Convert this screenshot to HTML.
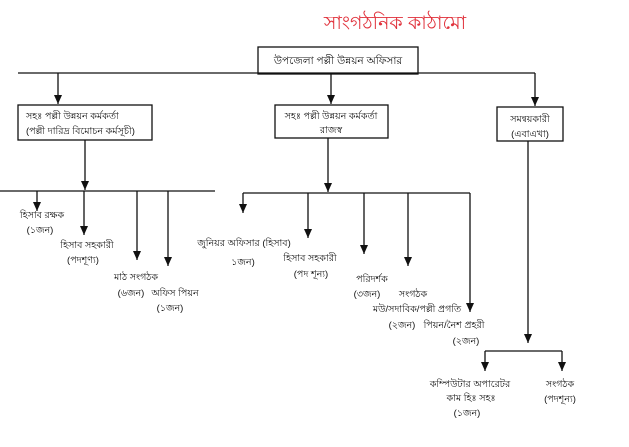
<!DOCTYPE html>
<html><head><meta charset="utf-8"><style>
html,body{margin:0;padding:0;background:#fff;}
svg{display:block;}
text{font-family:"Liberation Sans","Noto Sans CJK SC",sans-serif;font-size:9.5px;fill:#111;}
</style></head><body>
<svg width="629" height="447" viewBox="0 0 629 447" xmlns="http://www.w3.org/2000/svg">
<defs><marker id="a" markerWidth="9" markerHeight="8" refX="9" refY="4" orient="auto" markerUnits="userSpaceOnUse"><path d="M0,0 L9,4 L0,8 z" fill="#111"/></marker></defs>
<g stroke="#111" stroke-width="1.3" fill="none">
<rect x="258" y="47" width="160" height="27" fill="#fff"/>
<line x1="18" y1="73" x2="535" y2="73"/>
<line x1="58" y1="73" x2="58" y2="104" marker-end="url(#a)"/>
<line x1="331" y1="73" x2="331" y2="104" marker-end="url(#a)"/>
<line x1="535" y1="73" x2="535" y2="106" marker-end="url(#a)"/>
<rect x="18" y="105" width="134" height="35"/>
<rect x="275" y="105" width="113" height="33"/>
<rect x="497" y="107" width="66" height="34"/>
<line x1="85" y1="140" x2="85" y2="190" marker-end="url(#a)"/>
<line x1="0" y1="191" x2="215" y2="191"/>
<line x1="37" y1="191" x2="37" y2="211" marker-end="url(#a)"/>
<line x1="84" y1="191" x2="84" y2="235" marker-end="url(#a)"/>
<line x1="137" y1="191" x2="137" y2="260" marker-end="url(#a)"/>
<line x1="168" y1="191" x2="168" y2="266" marker-end="url(#a)"/>
<line x1="328" y1="138" x2="328" y2="192" marker-end="url(#a)"/>
<line x1="243" y1="193" x2="470" y2="193"/>
<line x1="243" y1="193" x2="243" y2="213" marker-end="url(#a)"/>
<line x1="308" y1="193" x2="308" y2="238" marker-end="url(#a)"/>
<line x1="364" y1="193" x2="364" y2="254" marker-end="url(#a)"/>
<line x1="408" y1="193" x2="408" y2="266" marker-end="url(#a)"/>
<line x1="470" y1="193" x2="470" y2="312" marker-end="url(#a)"/>
<line x1="528" y1="141" x2="528" y2="343" marker-end="url(#a)"/>
<line x1="485" y1="351" x2="562" y2="351"/>
<line x1="485" y1="351" x2="485" y2="371" marker-end="url(#a)"/>
<line x1="562" y1="351" x2="562" y2="371" marker-end="url(#a)"/>
</g>
<text x="395" y="29" text-anchor="middle" style="font-size:19px;fill:#e0303a">সাংগঠনিক কাঠামো</text>
<text x="338" y="64" text-anchor="middle" style="font-size:10.5px">উপজেলা পল্লী উন্নয়ন অফিসার</text>
<text x="26" y="119">সহঃ পল্লী উন্নয়ন কর্মকর্তা</text>
<text x="26" y="134">(পল্লী দারিদ্র বিমোচন কর্মসূচী)</text>
<text x="331" y="119" text-anchor="middle">সহঃ পল্লী উন্নয়ন কর্মকর্তা</text>
<text x="331" y="133" text-anchor="middle">রাজস্ব</text>
<text x="530" y="122" text-anchor="middle">সমন্বয়কারী</text>
<text x="530" y="137" text-anchor="middle">(এবাএখা)</text>
<text x="42" y="218" text-anchor="middle">হিসাব রক্ষক</text>
<text x="40" y="233" text-anchor="middle">(১জন)</text>
<text x="87" y="248" text-anchor="middle">হিসাব সহকারী</text>
<text x="83" y="263" text-anchor="middle">(পদশূণ্য)</text>
<text x="136" y="280" text-anchor="middle">মাঠ সংগঠক</text>
<text x="131" y="296" text-anchor="middle">(৬জন)</text>
<text x="175" y="296" text-anchor="middle">অফিস পিয়ন</text>
<text x="170" y="311" text-anchor="middle">(১জন)</text>
<text x="244" y="246" text-anchor="middle">জুনিয়র অফিসার (হিসাব)</text>
<text x="243" y="265" text-anchor="middle">১জন)</text>
<text x="310" y="261" text-anchor="middle">হিসাব সহকারী</text>
<text x="311" y="277" text-anchor="middle">(পদ শূন্য)</text>
<text x="372" y="282" text-anchor="middle">পরিদর্শক</text>
<text x="367" y="297" text-anchor="middle">(৩জন)</text>
<text x="413" y="297" text-anchor="middle">সংগঠক</text>
<text x="417" y="312" text-anchor="middle">মউ/সদাবিক/পল্লী প্রগতি</text>
<text x="402" y="328" text-anchor="middle">(২জন)</text>
<text x="454" y="328" text-anchor="middle">পিয়ন/নৈশ প্রহরী</text>
<text x="466" y="344" text-anchor="middle">(২জন)</text>
<text x="470" y="387" text-anchor="middle">কম্পিউটার অপারেটর</text>
<text x="471" y="401" text-anchor="middle">কাম হিঃ সহঃ</text>
<text x="467" y="416" text-anchor="middle">(১জন)</text>
<text x="560" y="387" text-anchor="middle">সংগঠক</text>
<text x="560" y="402" text-anchor="middle">(পদশূন্য)</text>
</svg>
</body></html>
